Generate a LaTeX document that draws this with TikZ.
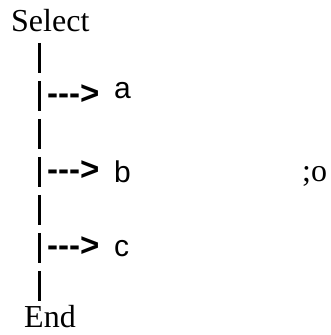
\documentclass[tikz,border=0pt]{standalone}
\usepackage{fontspec}
\setmainfont{Liberation Serif}
\newfontfamily\armfont{Liberation Sans}
\begin{document}
\begin{tikzpicture}[x=1pt,y=1pt,
  serifword/.style={inner sep=0pt,anchor=base west,font=\fontsize{32}{32}\selectfont},
  arrowtxt/.style={inner sep=0pt,anchor=base west,font=\armfont\bfseries\fontsize{33}{33}\selectfont},
  leaf/.style={inner sep=0pt,anchor=base west,font=\armfont\fontsize{30}{30}\selectfont},
  bar/.style={line width=2.8pt}]
\useasboundingbox (0,0) rectangle (331,335);
\node[serifword] (sel) at (11,303) {Select};
\node[serifword] (end) at (24,7) {End};
% bar segments
\foreach \i in {0,...,6}{
  \coordinate (t\i) at (39.5,{335-43-38*\i});
  \coordinate (b\i) at (39.5,{335-43-38*\i-30});
  \draw[bar] (t\i) -- (b\i);
}
% rows
\node[arrowtxt] (ra) at (47,{335-105}) {-{}-{}->};
\node[leaf] (la) at (114,{335-99}) {a};
\node[arrowtxt] (rb) at (47,{335-181}) {-{}-{}->};
\node[leaf] (lb) at (114,{335-183}) {b};
\node[arrowtxt] (rc) at (47,{335-257}) {-{}-{}->};
\node[leaf] (lc) at (114,{335-257}) {c};
\node[serifword] (so) at (302,{335-182}) {;o};
\end{tikzpicture}
\end{document}
